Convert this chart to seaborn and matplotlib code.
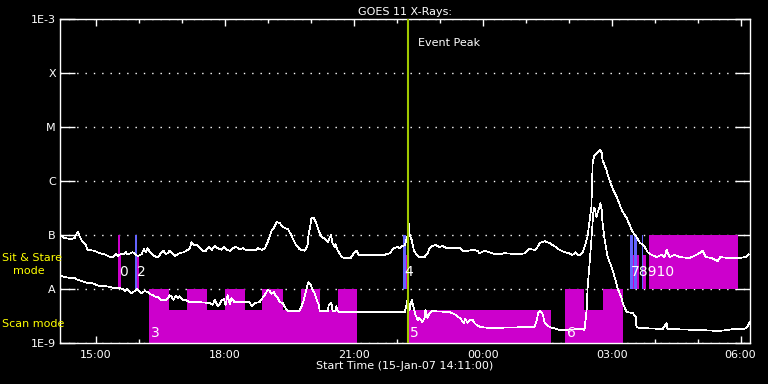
import numpy as np
import matplotlib
matplotlib.use("Agg")
import matplotlib.pyplot as plt
import matplotlib.ticker as mticker
import seaborn as sns

# time in hours since 15-Jan-07 00:00, flux in W/m^2
long_t = [14.19, 14.28, 14.44, 14.51, 14.58, 14.67, 14.77, 14.81, 14.98, 15.09, 15.21, 15.33, 15.40, 15.47,
          15.51, 15.58, 15.65, 15.70, 15.74, 15.81, 15.86, 15.93, 15.98, 16.07, 16.12, 16.16, 16.21, 16.26,
          16.33, 16.40, 16.44, 16.49, 16.53, 16.58, 16.63, 16.67, 16.72, 16.84, 16.95, 17.05, 17.14, 17.19,
          17.23, 17.28, 17.35, 17.42, 17.49, 17.56, 17.63, 17.70, 17.77, 17.84, 17.93, 17.98, 18.05, 18.12,
          18.19, 18.26, 18.35, 18.42, 18.49, 18.63, 18.72, 18.77, 18.86, 18.91, 18.95, 19.00, 19.05, 19.09,
          19.14, 19.21, 19.28, 19.35, 19.40, 19.47, 19.51, 19.56, 19.60, 19.65, 19.70, 19.74, 19.79, 19.86,
          19.88, 19.93, 19.95, 19.98, 20.02, 20.07, 20.12, 20.16, 20.21, 20.26, 20.30, 20.35, 20.40, 20.42,
          20.47, 20.51, 20.56, 20.58, 20.63, 20.67, 20.72, 20.79, 20.93, 20.98, 21.02, 21.07, 21.12, 21.28,
          21.72, 21.84, 21.93, 22.02, 22.07, 22.14, 22.19, 22.26, 22.28, 22.30, 22.35, 22.40, 22.44, 22.53,
          22.65, 22.72, 22.77, 22.84, 22.91, 23.00, 23.07, 23.16, 23.47, 23.53, 23.65, 23.79, 23.88, 23.93,
          24.05, 24.16, 24.28, 24.40, 24.51, 24.86, 24.98, 25.05, 25.09, 25.21, 25.26, 25.33, 25.40, 25.44,
          25.56, 25.63, 25.70, 25.79, 25.91, 26.02, 26.07, 26.12, 26.16, 26.21, 26.26, 26.33, 26.37, 26.44,
          26.53, 26.56, 26.60, 26.67, 26.74, 26.77, 26.79, 26.88, 26.95, 27.02, 27.12, 27.19, 27.26, 27.35,
          27.42, 27.49, 27.58, 27.65, 27.77, 27.84, 27.93, 28.05, 28.16, 28.23, 28.28, 28.35, 28.47, 28.58,
          28.81, 28.98, 29.12, 29.19, 29.33, 29.47, 29.53, 29.74, 29.98, 30.12, 30.19]
long_f = [9.6e-8, 8.8e-8, 8.4e-8, 8.8e-8, 1.14e-7, 8.1e-8, 6.5e-8, 5.3e-8, 5.1e-8, 4.6e-8, 4.4e-8, 3.9e-8, 3.9e-8, 4.4e-8,
          4.1e-8, 4.4e-8, 4.4e-8, 4.8e-8, 4.4e-8, 4.6e-8, 4.8e-8, 4.3e-8, 4.1e-8, 4.4e-8, 5.5e-8, 4.8e-8, 5.7e-8, 4.8e-8,
          4.3e-8, 3.9e-8, 3.9e-8, 4.3e-8, 4.8e-8, 5.1e-8, 4.4e-8, 4.6e-8, 5.1e-8, 4.1e-8, 4.6e-8, 4.8e-8, 5.3e-8, 5.7e-8,
          7.4e-8, 6.5e-8, 6.5e-8, 5.7e-8, 5.1e-8, 5.1e-8, 6.0e-8, 5.3e-8, 6.3e-8, 5.7e-8, 5.3e-8, 6.0e-8, 5.3e-8, 5.1e-8,
          5.7e-8, 6.0e-8, 5.5e-8, 5.7e-8, 5.3e-8, 5.3e-8, 5.3e-8, 5.7e-8, 5.3e-8, 5.5e-8, 6.0e-8, 7.4e-8, 9.6e-8, 1.19e-7,
          1.35e-7, 1.74e-7, 1.67e-7, 1.41e-7, 1.35e-7, 1.29e-7, 1.14e-7, 9.6e-8, 8.1e-8, 6.8e-8, 6.0e-8, 5.5e-8, 5.3e-8, 5.1e-8,
          5.3e-8, 6.5e-8, 1.0e-7, 1.29e-7, 2.07e-7, 2.07e-7, 1.74e-7, 1.41e-7, 1.09e-7, 9.2e-8, 8.8e-8, 8.1e-8, 7.4e-8, 8.1e-8,
          1.0e-7, 7.1e-8, 6.0e-8, 6.8e-8, 5.1e-8, 4.6e-8, 3.9e-8, 3.75e-8, 3.75e-8, 4.3e-8, 4.8e-8, 5.1e-8, 4.3e-8, 4.3e-8,
          4.3e-8, 4.6e-8, 5.7e-8, 6.0e-8, 5.7e-8, 6.3e-8, 6.5e-8, 1.0e-7, 1.6e-7, 1.04e-7, 8.1e-8, 5.3e-8, 4.6e-8, 3.9e-8,
          3.9e-8, 4.6e-8, 5.7e-8, 6.3e-8, 6.5e-8, 6.0e-8, 6.3e-8, 5.7e-8, 5.7e-8, 5.1e-8, 5.1e-8, 5.3e-8, 5.1e-8, 4.6e-8,
          5.1e-8, 4.8e-8, 4.4e-8, 4.4e-8, 4.6e-8, 4.4e-8, 4.6e-8, 5.3e-8, 5.5e-8, 5.3e-8, 5.7e-8, 7.1e-8, 7.4e-8, 7.7e-8,
          7.1e-8, 6.5e-8, 6.0e-8, 5.3e-8, 4.8e-8, 4.6e-8, 4.3e-8, 4.4e-8, 4.8e-8, 4.3e-8, 4.3e-8, 4.8e-8, 6.0e-8, 9.2e-8,
          3.3e-7, 2.15e-6, 3.0e-6, 3.3e-6, 3.75e-6, 3.3e-6, 2.45e-6, 1.6e-6, 1.04e-6, 7.4e-7, 5.1e-7, 3.6e-7, 2.67e-7, 2.07e-7,
          1.53e-7, 1.14e-7, 9.2e-8, 7.4e-8, 6.0e-8, 4.8e-8, 4.3e-8, 3.9e-8, 4.3e-8, 3.9e-8, 5.3e-8, 3.9e-8, 4.3e-8, 3.9e-8,
          3.75e-8, 4.3e-8, 5.1e-8, 3.9e-8, 3.75e-8, 3.3e-8, 3.9e-8, 3.75e-8, 3.75e-8, 3.9e-8, 4.4e-8]

short_t = [14.19, 14.28, 14.40, 14.51, 14.58, 14.67, 14.74, 14.81, 14.91, 15.02, 15.09, 15.21, 15.33, 15.44,
           15.56, 15.63, 15.67, 15.74, 15.79, 15.84, 15.91, 15.95, 16.00, 16.07, 16.14, 16.21, 16.26, 16.33,
           16.40, 16.44, 16.51, 16.63, 16.67, 16.72, 16.77, 16.81, 16.86, 16.91, 16.95, 17.02, 17.09, 17.19,
           17.42, 17.65, 17.72, 17.77, 17.84, 17.88, 17.93, 17.98, 18.02, 18.07, 18.12, 18.16, 18.23, 18.58,
           18.63, 18.70, 18.81, 18.88, 18.93, 19.00, 19.05, 19.09, 19.14, 19.19, 19.23, 19.28, 19.35, 19.40,
           19.47, 19.74, 19.79, 19.84, 19.88, 19.93, 19.95, 20.00, 20.05, 20.09, 20.14, 20.19, 20.21, 20.40,
           20.42, 20.47, 20.49, 20.51, 20.58, 20.60, 20.63, 20.67, 22.19, 22.23, 22.26, 22.30, 22.35, 22.40,
           22.44, 22.49, 22.53, 22.60, 22.65, 22.67, 22.72, 22.77, 22.81, 23.23, 23.35, 23.47, 23.51, 23.56,
           23.60, 23.65, 23.70, 23.77, 23.81, 23.86, 23.95, 24.16, 25.21, 25.26, 25.30, 25.35, 25.40, 25.44,
           25.49, 25.56, 25.79, 26.33, 26.37, 26.42, 26.44, 26.53, 26.58, 26.60, 26.65, 26.67, 26.72, 26.74,
           26.77, 26.79, 26.84, 26.91, 27.00, 27.07, 27.14, 27.23, 27.26, 27.35, 27.49, 27.56, 27.58, 27.65,
           28.19, 28.28, 28.30, 29.05, 29.51, 29.86, 30.09, 30.16, 30.21]
short_f = [1.74e-8, 1.67e-8, 1.6e-8, 1.6e-8, 1.47e-8, 1.41e-8, 1.35e-8, 1.29e-8, 1.29e-8, 1.19e-8, 1.14e-8, 1.14e-8, 1.09e-8, 1.04e-8,
           1.04e-8, 1.0e-8, 9.2e-9, 1.0e-8, 8.8e-9, 8.4e-9, 9.2e-9, 1.0e-8, 9.2e-9, 8.4e-9, 9.2e-9, 8.8e-9, 8.1e-9, 7.7e-9,
           7.1e-9, 7.1e-9, 6.3e-9, 6.3e-9, 6.5e-9, 7.7e-9, 7.1e-9, 6.3e-9, 7.4e-9, 6.8e-9, 7.4e-9, 6.3e-9, 6.3e-9, 5.7e-9,
           5.7e-9, 5.5e-9, 5.1e-9, 6.3e-9, 4.8e-9, 5.1e-9, 6.3e-9, 6.5e-9, 5.1e-9, 7.7e-9, 5.3e-9, 6.8e-9, 5.7e-9, 5.7e-9,
           4.8e-9, 5.5e-9, 5.7e-9, 6.8e-9, 7.7e-9, 9.6e-9, 9.2e-9, 8.1e-9, 8.8e-9, 7.4e-9, 7.1e-9, 5.7e-9, 5.5e-9, 4.6e-9,
           3.9e-9, 3.9e-9, 4.8e-9, 6.3e-9, 8.4e-9, 1.19e-8, 1.35e-8, 1.19e-8, 9.6e-9, 8.4e-9, 6.3e-9, 5.1e-9, 3.9e-9, 3.9e-9,
           5.1e-9, 5.5e-9, 5.1e-9, 3.9e-9, 3.9e-9, 4.8e-9, 3.9e-9, 3.75e-9, 3.75e-9, 5.1e-9, 6.8e-9, 4.1e-9, 6.3e-9, 4.4e-9,
           3.3e-9, 2.67e-9, 2.9e-9, 2.45e-9, 2.9e-9, 4.1e-9, 2.9e-9, 3.6e-9, 3.9e-9, 3.75e-9, 3.4e-9, 2.9e-9, 2.67e-9, 2.35e-9,
           2.8e-9, 2.35e-9, 2.67e-9, 2.67e-9, 2.35e-9, 2.15e-9, 1.98e-9, 1.9e-9, 1.98e-9, 2.67e-9, 3.75e-9, 3.9e-9, 3.4e-9, 2.45e-9,
           2.15e-9, 1.98e-9, 1.74e-9, 1.82e-9, 1.74e-9, 4.1e-9, 9.6e-9, 8.1e-8, 2.9e-7, 3.2e-7, 2.15e-7, 2.55e-7, 3.3e-7, 3.9e-7,
           2.9e-7, 1.67e-7, 8.1e-8, 3.9e-8, 2.55e-8, 1.67e-8, 1.04e-8, 6.8e-9, 5.5e-9, 3.75e-9, 3.6e-9, 3.05e-9, 1.98e-9, 1.9e-9,
           1.82e-9, 2.35e-9, 1.82e-9, 1.74e-9, 1.67e-9, 1.82e-9, 1.82e-9, 1.98e-9, 2.45e-9]

# scan mode observing blocks (bottom at 1E-9)
scan_start = [16.23, 16.70, 17.12, 17.58, 18.00, 18.47, 18.88, 19.35, 19.77, 20.21, 20.63, 22.28, 25.91, 26.37, 26.79]
scan_end = [16.70, 17.12, 17.58, 18.00, 18.47, 18.88, 19.35, 19.77, 20.21, 20.63, 21.09, 25.58, 26.37, 26.79, 27.26]
scan_top = [1e-8, 4.1e-9, 1e-8, 4.1e-9, 1e-8, 4.1e-9, 1e-8, 4.1e-9, 1e-8, 4.1e-9, 1e-8, 4.1e-9, 1e-8, 4.1e-9, 1e-8]

# sit & stare blocks (bottom at 1E-8)
ss_start = [15.51, 15.56, 15.91, 15.95, 22.16, 22.21, 27.44, 27.49, 27.53, 27.58, 27.70, 27.74, 27.86]
ss_end = [15.56, 15.60, 15.95, 16.00, 22.21, 22.26, 27.49, 27.53, 27.58, 27.63, 27.74, 27.79, 29.95]
ss_top = [1e-7, 4.3e-8, 1e-7, 4.3e-8, 1e-7, 4.3e-8, 1e-7, 4.3e-8, 1e-7, 4.3e-8, 1e-7, 4.3e-8, 1e-7]
ss_kind = ["m", "m", "b", "m", "b", "m", "b", "m", "b", "m", "b", "m", "m"]

# event numbers (7..10 are printed packed together, as in the original)
ev_label = ["0", "2", "3", "4", "5", "6", "78910"]
ev_t = [15.54, 15.96, 16.28, 22.19, 22.32, 25.97, 27.46]
ev_f = [2.07e-8, 2.07e-8, 1.53e-9, 2.07e-8, 1.53e-9, 1.53e-9, 2.07e-8]

peak_time = 22.26

ytick_vals = [1e-9, 1e-8, 1e-7, 1e-6, 1e-5, 1e-4, 1e-3]
ytick_text = ["1E-9", "A", "B", "C", "M", "X", "1E-3"]
xtick_vals = [15, 18, 21, 24, 27, 30]
xtick_text = ["15:00", "18:00", "21:00", "00:00", "03:00", "06:00"]

MAG = "#cc00cc"
BLUE = "#6464ff"

sns.set_style("dark", {"axes.facecolor": "black", "figure.facecolor": "black",
                       "axes.edgecolor": "white", "text.color": "white",
                       "xtick.color": "white", "ytick.color": "white"})
plt.rcParams["font.family"] = ["DejaVu Sans"]

fig = plt.figure(figsize=(7.68, 3.84), dpi=100, facecolor="black")
ax = fig.add_axes([60 / 768, 1 - 343 / 384, 690 / 768, 324 / 384])
ax.set_facecolor("black")
ax.set_yscale("log")
ax.set_ylim(1e-9, 1e-3)
ax.set_xlim(14.17, 30.22)

# dotted class lines below everything
ax.set_axisbelow(True)
ax.yaxis.grid(True, color="white", linestyle=(0, (1, 5)), linewidth=1)
ax.xaxis.grid(False)

# observing blocks
s0, s1 = np.array(scan_start), np.array(scan_end)
ax.bar(s0, np.array(scan_top) - 1e-9, width=s1 - s0, bottom=1e-9, align="edge",
       color=MAG, linewidth=0, zorder=2)
b0, b1 = np.array(ss_start), np.array(ss_end)
cols = [MAG if k == "m" else BLUE for k in ss_kind]
ax.bar(b0, np.array(ss_top) - 1e-8, width=b1 - b0, bottom=1e-8, align="edge",
       color=cols, linewidth=0, zorder=2)

# light curves
sns.lineplot(x=long_t, y=long_f, ax=ax, color="white", linewidth=0.5, sort=False,
             estimator=None, zorder=3, antialiased=False)
sns.lineplot(x=short_t, y=short_f, ax=ax, color="white", linewidth=0.5, sort=False,
             estimator=None, zorder=3, antialiased=False)

ax.axvline(peak_time, color="#a0c800", linewidth=1.5, zorder=4)
ax.text(22.49, 3.6e-4, "Event Peak", color="white", fontsize=8, ha="left", va="center")

for lab, t, f in zip(ev_label, ev_t, ev_f):
    ax.text(t, f, lab, color="white", fontsize=10, ha="left", va="center", zorder=5)

ax.set_yticks(ytick_vals)
ax.set_yticklabels(ytick_text)
ax.yaxis.set_minor_locator(mticker.NullLocator())
ax.set_xticks(xtick_vals)
ax.set_xticklabels(xtick_text)
ax.xaxis.set_minor_locator(mticker.MultipleLocator(1))

ax.tick_params(axis="y", which="major", direction="in", length=11, width=1,
               left=True, right=True, labelsize=8, pad=3, colors="white")
ax.tick_params(axis="x", which="major", direction="in", length=5, width=1,
               top=True, bottom=True, labelsize=8, pad=5, colors="white")
ax.tick_params(axis="x", which="minor", direction="in", length=3, width=1,
               top=True, bottom=True, colors="white")
for sp in ax.spines.values():
    sp.set_color("white")
    sp.set_linewidth(1)

ax.set_title("GOES 11 X-Rays:", color="white", fontsize=8, pad=3)
ax.set_xlabel("Start Time (15-Jan-07 14:11:00)", color="white", fontsize=8, labelpad=1)
ax.set_ylabel("")

fig.text(2 / 768, 1 - 258 / 384, "Sit & Stare", color="yellow", fontsize=8, ha="left", va="center")
fig.text(13 / 768, 1 - 271 / 384, "mode", color="yellow", fontsize=8, ha="left", va="center")
fig.text(2 / 768, 1 - 324 / 384, "Scan mode", color="yellow", fontsize=8, ha="left", va="center")

fig.savefig("out.png", dpi=100, facecolor="black")
